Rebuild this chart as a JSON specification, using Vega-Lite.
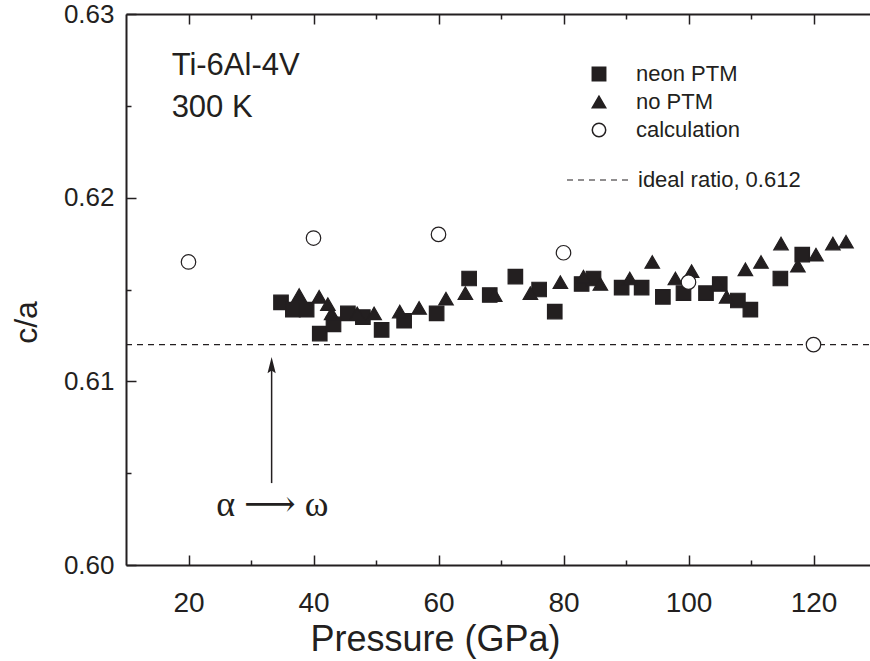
{
  "$schema": "https://vega.github.io/schema/vega-lite/v6.json",
  "width": 750,
  "height": 551,
  "autosize": {"type": "none"},
  "padding": {"left": 126, "top": 14, "right": 0, "bottom": 96},
  "background": "white",
  "config": {
    "view": {"stroke": null},
    "font": "Liberation Sans",
    "axis": {"grid": false, "domainColor": "#231f20", "domainWidth": 2, "tickColor": "#231f20", "tickWidth": 1.5, "labelColor": "#231f20", "titleColor": "#231f20", "labelFont": "Liberation Sans", "titleFont": "Liberation Sans", "titleFontWeight": "normal"},
    "legend": {"labelFont": "Liberation Sans", "labelColor": "#231f20", "labelLimit": 400}
  },
  "datasets": {
    "points": [
      {"P": 34.8, "ca": 0.6143, "series": "neon PTM"},
      {"P": 36.7, "ca": 0.6139, "series": "neon PTM"},
      {"P": 38.9, "ca": 0.6139, "series": "neon PTM"},
      {"P": 41.0, "ca": 0.6126, "series": "neon PTM"},
      {"P": 43.2, "ca": 0.6131, "series": "neon PTM"},
      {"P": 45.5, "ca": 0.6137, "series": "neon PTM"},
      {"P": 47.9, "ca": 0.6135, "series": "neon PTM"},
      {"P": 50.9, "ca": 0.6128, "series": "neon PTM"},
      {"P": 54.5, "ca": 0.6133, "series": "neon PTM"},
      {"P": 59.7, "ca": 0.6137, "series": "neon PTM"},
      {"P": 64.9, "ca": 0.6156, "series": "neon PTM"},
      {"P": 68.2, "ca": 0.6147, "series": "neon PTM"},
      {"P": 72.3, "ca": 0.6157, "series": "neon PTM"},
      {"P": 76.1, "ca": 0.6150, "series": "neon PTM"},
      {"P": 78.6, "ca": 0.6138, "series": "neon PTM"},
      {"P": 82.9, "ca": 0.6153, "series": "neon PTM"},
      {"P": 84.8, "ca": 0.6156, "series": "neon PTM"},
      {"P": 89.3, "ca": 0.6151, "series": "neon PTM"},
      {"P": 92.5, "ca": 0.6151, "series": "neon PTM"},
      {"P": 95.9, "ca": 0.6146, "series": "neon PTM"},
      {"P": 99.2, "ca": 0.6148, "series": "neon PTM"},
      {"P": 102.8, "ca": 0.6148, "series": "neon PTM"},
      {"P": 105.0, "ca": 0.6153, "series": "neon PTM"},
      {"P": 107.9, "ca": 0.6144, "series": "neon PTM"},
      {"P": 109.9, "ca": 0.6139, "series": "neon PTM"},
      {"P": 114.7, "ca": 0.6156, "series": "neon PTM"},
      {"P": 118.2, "ca": 0.6169, "series": "neon PTM"},
      {"P": 37.7, "ca": 0.6147, "series": "no PTM"},
      {"P": 40.9, "ca": 0.6146, "series": "no PTM"},
      {"P": 42.3, "ca": 0.6142, "series": "no PTM"},
      {"P": 42.9, "ca": 0.6137, "series": "no PTM"},
      {"P": 47.0, "ca": 0.6137, "series": "no PTM"},
      {"P": 49.7, "ca": 0.6137, "series": "no PTM"},
      {"P": 53.8, "ca": 0.6138, "series": "no PTM"},
      {"P": 56.9, "ca": 0.6140, "series": "no PTM"},
      {"P": 61.2, "ca": 0.6145, "series": "no PTM"},
      {"P": 64.3, "ca": 0.6148, "series": "no PTM"},
      {"P": 69.0, "ca": 0.6147, "series": "no PTM"},
      {"P": 74.7, "ca": 0.6148, "series": "no PTM"},
      {"P": 79.5, "ca": 0.6154, "series": "no PTM"},
      {"P": 83.2, "ca": 0.6157, "series": "no PTM"},
      {"P": 85.9, "ca": 0.6153, "series": "no PTM"},
      {"P": 90.6, "ca": 0.6156, "series": "no PTM"},
      {"P": 94.2, "ca": 0.6165, "series": "no PTM"},
      {"P": 97.9, "ca": 0.6156, "series": "no PTM"},
      {"P": 100.5, "ca": 0.6160, "series": "no PTM"},
      {"P": 104.6, "ca": 0.6153, "series": "no PTM"},
      {"P": 106.1, "ca": 0.6146, "series": "no PTM"},
      {"P": 109.1, "ca": 0.6161, "series": "no PTM"},
      {"P": 111.6, "ca": 0.6165, "series": "no PTM"},
      {"P": 114.8, "ca": 0.6175, "series": "no PTM"},
      {"P": 117.5, "ca": 0.6163, "series": "no PTM"},
      {"P": 120.4, "ca": 0.6169, "series": "no PTM"},
      {"P": 123.1, "ca": 0.6175, "series": "no PTM"},
      {"P": 125.2, "ca": 0.6176, "series": "no PTM"},
      {"P": 20, "ca": 0.6165, "series": "calculation"},
      {"P": 40, "ca": 0.6178, "series": "calculation"},
      {"P": 60, "ca": 0.6180, "series": "calculation"},
      {"P": 80, "ca": 0.6170, "series": "calculation"},
      {"P": 100, "ca": 0.6154, "series": "calculation"},
      {"P": 120, "ca": 0.6120, "series": "calculation"}
    ]
  },
  "resolve": {"axis": {"x": "independent", "y": "independent"}},
  "layer": [
    {
      "data": {"values": [{"label": "ideal ratio, 0.612", "ca": 0.612, "x0": 10, "x1": 130}]},
      "mark": {"type": "rule", "color": "#231f20", "strokeWidth": 1.2},
      "encoding": {
        "x": {"field": "x0", "type": "quantitative", "scale": {"domain": [10, 130], "nice": false, "zero": false},
          "axis": {"orient": "bottom", "values": [20, 40, 60, 80, 100, 120], "title": "Pressure (GPa)", "tickSize": -10, "labelPadding": 34, "labelFontSize": 28, "titleFontSize": 36, "titlePadding": 5, "titleX": 309}},
        "x2": {"field": "x1"},
        "y": {"field": "ca", "type": "quantitative", "scale": {"domain": [0.6, 0.63], "nice": false, "zero": false},
          "axis": {"orient": "left", "values": [0.6, 0.61, 0.62, 0.63], "format": ".2f", "title": "c/a", "tickSize": -10, "labelPadding": 22, "labelFontSize": 26, "titleFontSize": 32, "titlePadding": 20, "titleY": 308}},
        "strokeDash": {"field": "label", "type": "nominal", "scale": {"range": [[6, 5]]},
          "legend": {"title": null, "orient": "none", "legendX": 440, "legendY": 133, "symbolType": "stroke", "symbolSize": 4096, "symbolStrokeColor": "#231f20", "symbolStrokeWidth": 1.2, "labelFontSize": 22, "labelOffset": 6, "padding": 0}}
      }
    },
    {
      "data": {"values": [{"P": 33.3, "y0": 0.60446, "y1": 0.6109}]},
      "mark": {"type": "rule", "color": "#231f20", "strokeWidth": 1.5},
      "encoding": {
        "x": {"field": "P", "type": "quantitative", "axis": {"orient": "bottom", "values": [30, 50, 70, 90, 110], "labels": false, "title": null, "tickSize": -5, "domain": false}},
        "y": {"field": "y0", "type": "quantitative", "axis": {"orient": "left", "values": [0.605, 0.615, 0.625], "labels": false, "title": null, "tickSize": -5, "domain": false}},
        "y2": {"field": "y1"}
      }
    },
    {
      "data": {"values": [{"P": 33.3, "ca": 0.6107}]},
      "mark": {"type": "point", "shape": "M0,-1 L0.36,0.42 L0,0.18 L-0.36,0.42 Z", "size": 520, "filled": true, "color": "#231f20", "opacity": 1},
      "encoding": {
        "x": {"field": "P", "type": "quantitative", "axis": {"orient": "top", "values": [20, 40, 60, 80, 100, 120], "labels": false, "title": null, "tickSize": -10}},
        "y": {"field": "ca", "type": "quantitative", "axis": null}
      }
    },
    {
      "data": {"name": "points"},
      "mark": {"type": "point", "filled": true, "stroke": "#231f20", "strokeWidth": 1.2, "opacity": 1, "size": 210},
      "encoding": {
        "x": {"field": "P", "type": "quantitative", "axis": {"orient": "top", "values": [30, 50, 70, 90, 110], "labels": false, "title": null, "tickSize": -5, "domain": false}},
        "y": {"field": "ca", "type": "quantitative", "axis": null},
        "shape": {"field": "series", "type": "nominal", "scale": {"domain": ["neon PTM", "no PTM", "calculation"], "range": ["square", "triangle-up", "circle"]},
          "legend": {"title": null, "orient": "none", "legendX": 462, "legendY": 49, "symbolSize": 180, "labelFontSize": 22, "labelOffset": 26, "rowPadding": 6, "padding": 0,
            "encode": {"symbols": {"update": {"stroke": {"value": "#231f20"}, "strokeWidth": {"value": 1.2}}}}}},
        "fill": {"field": "series", "type": "nominal", "scale": {"domain": ["neon PTM", "no PTM", "calculation"], "range": ["#231f20", "#231f20", "white"]},
          "legend": {"title": null, "orient": "none", "legendX": 462, "legendY": 49, "symbolSize": 180, "labelFontSize": 22, "labelOffset": 26, "rowPadding": 6, "padding": 0,
            "encode": {"symbols": {"update": {"stroke": {"value": "#231f20"}, "strokeWidth": {"value": 1.2}}}}}}
      }
    },
    {
      "data": {"values": [{"P": 17.3, "ca": 0.62667, "text": "Ti-6Al-4V"}, {"P": 17.3, "ca": 0.6244, "text": "300 K"}]},
      "mark": {"type": "text", "align": "left", "baseline": "alphabetic", "fontSize": 31, "font": "Liberation Sans", "color": "#231f20"},
      "encoding": {
        "x": {"field": "P", "type": "quantitative", "axis": null},
        "y": {"field": "ca", "type": "quantitative", "axis": null},
        "text": {"field": "text"}
      }
    },
    {
      "data": {"values": [{"P": 33.4, "ca": 0.60327, "text": "α ⟶ ω"}]},
      "mark": {"type": "text", "align": "center", "baseline": "middle", "fontSize": 36, "font": "Liberation Serif, DejaVu Serif", "color": "#231f20"},
      "encoding": {
        "x": {"field": "P", "type": "quantitative", "axis": null},
        "y": {"field": "ca", "type": "quantitative", "axis": null},
        "text": {"field": "text"}
      }
    }
  ]
}
